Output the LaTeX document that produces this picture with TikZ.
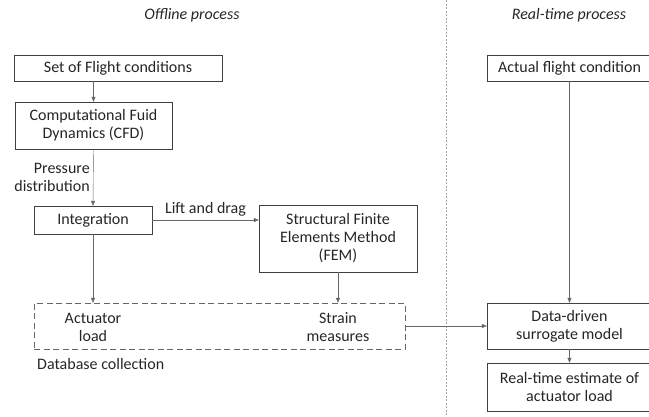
\documentclass[tikz,border=0pt]{standalone}
\usepackage{fontspec}
\setmainfont{Carlito}
\usepackage{tikz}
\usetikzlibrary{positioning, arrows.meta, calc}

\tikzset{
    box/.style={draw=black!75, thin, fill=white, align=center, inner sep=2pt},
    flow/.style={draw=black!60, thin, -{Triangle[length=5pt,width=4pt]}},
    header/.style={font=\fontsize{16}{18}\selectfont\itshape}
}

\begin{document}
\begin{tikzpicture}[x=1pt, y=-1pt, font=\fontsize{16}{18}\selectfont, text=black!85]
        \useasboundingbox (0,0) rectangle (649,416);

        % Divider between the two processes
        \draw[black!35, dashed, dash pattern=on 2pt off 1.5pt] (446,0) -- (446,416);

        % Headers
        \node[header] (offline) at (192,15) {Offline process};
        \node[header] (realtime) at (569,15) {Real-time process};

        % Offline process
        \node[box, minimum width=208, minimum height=26] (flights) at (118,68) {Set of Flight conditions};
        \node[box, minimum width=157, minimum height=47] (cfd) at (93.5,125.5) {Computational Fuid\\Dynamics (CFD)};
        \node[box, minimum width=118, minimum height=28] (integ) at (93,220) {Integration};
        \node[box, minimum width=158, minimum height=67] (fem) at (338,238.5) {Structural Finite\\Elements Method\\(FEM)};

        % Database collection
        \node[draw=black!60, dashed, dash pattern=on 6pt off 3.5pt, minimum width=371, minimum height=46] (db) at (219.5,326) {};
        \node[align=center] (act) at (93,327) {Actuator\\load};
        \node[align=center] (strain) at (338,327) {Strain\\measures};
        \node[anchor=west, inner sep=0pt] (dbcap) at (37,364) {Database collection};

        % Real-time process
        \node[box, minimum width=165, minimum height=26] (actual) at (569.5,68) {Actual flight condition};
        \node[box, minimum width=165, minimum height=46] (model) at (569.5,326) {Data-driven\\surrogate model};
        \node[box, minimum width=165, minimum height=48] (estim) at (569.5,387) {Real-time estimate of\\actuator load};

        % Arrows
        \draw[flow] (flights.south -| cfd.north) -- (cfd.north);
        \draw[flow] (cfd.south) -- (integ.north) node[midway, left, align=right, text=black!85] {Pressure\\distribution};
        \draw[flow] (integ.east) -- (integ.east -| fem.west) node[midway, above, text=black!85] {Lift and drag};
        \draw[flow] (integ.south) -- (integ.south |- db.north);
        \draw[flow] (fem.south) -- (fem.south |- db.north);
        \draw[flow] (db.east) -- (model.west);
        \draw[flow] (actual.south) -- (model.north);
        \draw[flow] (model.south) -- (estim.north);

    \end{tikzpicture}
\end{document}
